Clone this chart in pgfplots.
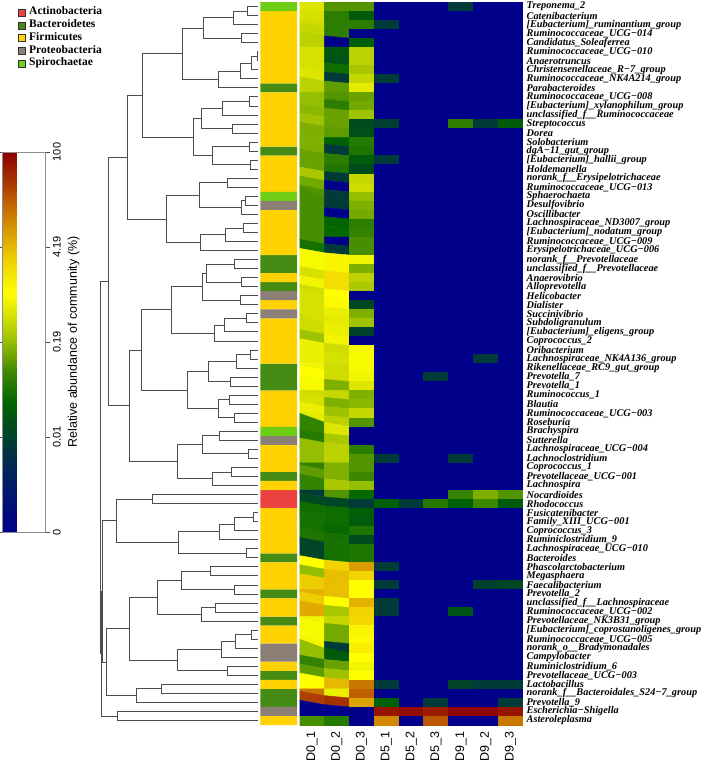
\documentclass[border=0pt]{standalone}
\usepackage{pgfplots}
\pgfplotsset{compat=1.18}
\usetikzlibrary{calc}
\usepackage{fontspec}
\setmainfont{Liberation Serif}
\newfontfamily\arial{Liberation Sans}
\definecolor{cActino}{RGB}{235,65,65}
\definecolor{cBacter}{RGB}{70,140,20}
\definecolor{cFirmi}{RGB}{255,210,0}
\definecolor{cProteo}{RGB}{140,128,118}
\definecolor{cSpiro}{RGB}{110,205,20}
\pgfplotsset{dend/.style={forget plot, draw=black!70, line width=0.8pt},
  phy/.style={xbar, bar width=1, bar shift=0pt, draw=none, fill=#1}}
\begin{document}
\begin{tikzpicture}
\useasboundingbox (0pt,0pt) rectangle (709pt,763pt);

% ---------------- dendrogram + legend ----------------
\begin{axis}[at={(100pt,38pt)}, anchor=south west, scale only axis,
  width=160pt, height=723pt, xmin=100, xmax=260, ymin=0.5, ymax=80.5,
  y dir=reverse, hide axis, clip=false,
  legend style={at={(-0.5125,0.9945)}, anchor=north west, draw=none, fill=none,
    font=\bfseries\fontsize{11.5}{11.5}\selectfont, inner sep=0pt, row sep=0pt,
    nodes={inner sep=0.6pt, text height=8pt, text depth=3.6pt},
    /tikz/every odd column/.append style={column sep=3pt}},
  legend cell align=left,
  legend image code/.code={\draw[#1] (0pt,-3.5pt) rectangle (7pt,3.5pt);}]
\addlegendimage{fill=cActino, draw=black!80}
\addlegendentry{Actinobacteria}
\addlegendimage{fill=cBacter, draw=black!80}
\addlegendentry{Bacteroidetes}
\addlegendimage{fill=cFirmi, draw=black!80}
\addlegendentry{Firmicutes}
\addlegendimage{fill=cProteo, draw=black!80}
\addlegendentry{Proteobacteria}
\addlegendimage{fill=cSpiro, draw=black!80}
\addlegendentry{Spirochaetae}
% rows 1-28
\addplot[dend] coordinates {(258,1) (247,1) (247,2) (258,2)};
\addplot[dend] coordinates {(247,1.5) (233,1.5) (233,3) (258,3)};
\addplot[dend] coordinates {(258,4) (241,4) (241,5) (258,5)};
\addplot[dend] coordinates {(233,2.25) (203,2.25) (203,4.5) (241,4.5)};
\addplot[dend] coordinates {(258,6) (257,6) (257,7) (258,7)};
\addplot[dend] coordinates {(257,6.5) (251,6.5) (251,8) (258,8)};
\addplot[dend] coordinates {(251,7.25) (240,7.25) (240,9) (258,9)};
\addplot[dend] coordinates {(240,8.125) (218,8.125) (218,10) (258,10)};
\addplot[dend] coordinates {(203,3.375) (182,3.375) (182,9.0625) (218,9.0625)};
\addplot[dend] coordinates {(258,11) (249,11) (249,12) (258,12)};
\addplot[dend] coordinates {(249,11.5) (222,11.5) (222,13) (258,13)};
\addplot[dend] coordinates {(258,14) (232,14) (232,15) (258,15)};
\addplot[dend] coordinates {(222,12.25) (201,12.25) (201,14.5) (232,14.5)};
\addplot[dend] coordinates {(258,16) (249,16) (249,17) (258,17)};
\addplot[dend] coordinates {(258,18) (250,18) (250,19) (258,19)};
\addplot[dend] coordinates {(249,16.5) (212,16.5) (212,18.5) (250,18.5)};
\addplot[dend] coordinates {(201,13.375) (193,13.375) (193,17.5) (212,17.5)};
\addplot[dend] coordinates {(182,6.21875) (142,6.21875) (142,15.4375) (193,15.4375)};
\addplot[dend] coordinates {(258,20) (227,20) (227,21) (258,21)};
\addplot[dend] coordinates {(258,22) (245,22) (245,23) (258,23)};
\addplot[dend] coordinates {(245,22.5) (241,22.5) (241,24) (258,24)};
\addplot[dend] coordinates {(227,20.5) (199,20.5) (199,23.25) (241,23.25)};
\addplot[dend] coordinates {(258,25) (243,25) (243,26) (258,26)};
\addplot[dend] coordinates {(243,25.5) (225,25.5) (225,27) (258,27)};
\addplot[dend] coordinates {(225,26.25) (200,26.25) (200,28) (258,28)};
\addplot[dend] coordinates {(199,21.875) (166,21.875) (166,27.125) (200,27.125)};
\addplot[dend] coordinates {(142,10.828) (127,10.828) (127,24.5) (166,24.5)};
% rows 29-54
\addplot[dend] coordinates {(258,29) (234,29) (234,30) (258,30)};
\addplot[dend] coordinates {(258,31) (241,31) (241,32) (258,32)};
\addplot[dend] coordinates {(234,29.5) (206,29.5) (206,31.5) (241,31.5)};
\addplot[dend] coordinates {(258,33) (240,33) (240,34) (258,34)};
\addplot[dend] coordinates {(206,30.5) (202,30.5) (202,33.5) (240,33.5)};
\addplot[dend] coordinates {(258,35) (246,35) (246,36) (258,36)};
\addplot[dend] coordinates {(246,35.5) (224,35.5) (224,37) (258,37)};
\addplot[dend] coordinates {(224,36.25) (214,36.25) (214,38) (258,38)};
\addplot[dend] coordinates {(202,32) (171,32) (171,37.125) (214,37.125)};
\addplot[dend] coordinates {(258,39) (250,39) (250,40) (258,40)};
\addplot[dend] coordinates {(250,39.5) (236,39.5) (236,41) (258,41)};
\addplot[dend] coordinates {(258,42) (230,42) (230,43) (258,43)};
\addplot[dend] coordinates {(236,40.25) (208,40.25) (208,42.5) (230,42.5)};
\addplot[dend] coordinates {(258,44) (229,44) (229,45) (258,45)};
\addplot[dend] coordinates {(258,46) (234,46) (234,47) (258,47)};
\addplot[dend] coordinates {(229,44.5) (218,44.5) (218,46.5) (234,46.5)};
\addplot[dend] coordinates {(208,41.375) (187,41.375) (187,45.5) (218,45.5)};
\addplot[dend] coordinates {(171,34.5625) (141,34.5625) (141,43.4375) (187,43.4375)};
\addplot[dend] coordinates {(258,48) (219,48) (219,49) (258,49)};
\addplot[dend] coordinates {(258,50) (248,50) (248,51) (258,51)};
\addplot[dend] coordinates {(219,48.5) (202,48.5) (202,50.5) (248,50.5)};
\addplot[dend] coordinates {(258,52) (231,52) (231,53) (258,53)};
\addplot[dend] coordinates {(231,52.5) (212,52.5) (212,54) (258,54)};
\addplot[dend] coordinates {(202,49.5) (177,49.5) (177,53.25) (212,53.25)};
\addplot[dend] coordinates {(141,39) (129,39) (129,51.375) (177,51.375)};
\addplot[dend] coordinates {(127,17.664) (108,17.664) (108,45.1875) (129,45.1875)};
% rows 55-62
\addplot[dend] coordinates {(258,55) (152,55) (152,56) (258,56)};
\addplot[dend] coordinates {(258,57) (253,57) (253,58) (258,58)};
\addplot[dend] coordinates {(253,57.5) (234,57.5) (234,59) (258,59)};
\addplot[dend] coordinates {(234,58.25) (219,58.25) (219,60) (258,60)};
\addplot[dend] coordinates {(258,61) (246,61) (246,62) (258,62)};
\addplot[dend] coordinates {(219,59.125) (178,59.125) (178,61.5) (246,61.5)};
\addplot[dend] coordinates {(152,55.5) (116,55.5) (116,60.3125) (178,60.3125)};
% rows 63-80
\addplot[dend] coordinates {(258,63) (210,63) (210,64) (258,64)};
\addplot[dend] coordinates {(258,65) (234,65) (234,66) (258,66)};
\addplot[dend] coordinates {(210,63.5) (181,63.5) (181,65.5) (234,65.5)};
\addplot[dend] coordinates {(258,67) (215,67) (215,68) (258,68)};
\addplot[dend] coordinates {(215,67.5) (201,67.5) (201,69) (258,69)};
\addplot[dend] coordinates {(181,64.5) (157,64.5) (157,68.25) (201,68.25)};
\addplot[dend] coordinates {(258,70) (251,70) (251,71) (258,71)};
\addplot[dend] coordinates {(251,70.5) (235,70.5) (235,72) (258,72)};
\addplot[dend] coordinates {(235,71.25) (221,71.25) (221,73) (258,73)};
\addplot[dend] coordinates {(258,74) (227,74) (227,75) (258,75)};
\addplot[dend] coordinates {(221,72.125) (177,72.125) (177,74.5) (227,74.5)};
\addplot[dend] coordinates {(157,66.375) (129,66.375) (129,73.3125) (177,73.3125)};
\addplot[dend] coordinates {(258,76) (161,76) (161,77) (258,77)};
\addplot[dend] coordinates {(161,76.5) (136,76.5) (136,78) (258,78)};
\addplot[dend] coordinates {(129,69.84375) (106,69.84375) (106,77.25) (136,77.25)};
\addplot[dend] coordinates {(258,79) (117,79) (117,80) (258,80)};
\addplot[dend] coordinates {(116,57.906) (102,57.906) (102,73.547) (106,73.547)};
\addplot[dend] coordinates {(102,65.727) (101,65.727) (101,79.5) (117,79.5)};
\addplot[dend] coordinates {(108,31.43) (100,31.43) (100,72.61) (101,72.61)};
\end{axis}

% ---------------- phylum column ----------------
\begin{axis}[at={(260.3pt,38pt)}, anchor=south west, scale only axis,
  width=36.7pt, height=723pt, xmin=0, xmax=1, ymin=0.5, ymax=80.5,
  y dir=reverse, hide axis]
% Actinobacteria
\addplot[phy=cActino] coordinates {(1,55) (1,56)};
% Bacteroidetes
\addplot[phy=cBacter] coordinates {(1,10) (1,17) (1,29) (1,30) (1,32) (1,41) (1,42) (1,43)
  (1,53) (1,62) (1,66) (1,69) (1,75) (1,77) (1,78)};
% Firmicutes
\addplot[phy=cFirmi] coordinates {(1,2) (1,3) (1,4) (1,5) (1,6) (1,7) (1,8) (1,9)
  (1,11) (1,12) (1,13) (1,14) (1,15) (1,16) (1,18) (1,19) (1,20) (1,21)
  (1,24) (1,25) (1,26) (1,27) (1,28) (1,31) (1,34) (1,36) (1,37) (1,38) (1,39) (1,40)
  (1,44) (1,45) (1,46) (1,47) (1,50) (1,51) (1,52) (1,54) (1,57) (1,58) (1,59) (1,60) (1,61)
  (1,63) (1,64) (1,65) (1,67) (1,68) (1,70) (1,71) (1,74) (1,76) (1,80)};
% Proteobacteria
\addplot[phy=cProteo] coordinates {(1,23) (1,33) (1,35) (1,49) (1,72) (1,73) (1,79)};
% Spirochaetae
\addplot[phy=cSpiro] coordinates {(1,1) (1,22) (1,48)};
\end{axis}

% ---------------- heatmap ----------------
\begin{axis}[at={(299.5pt,38pt)}, anchor=south west, scale only axis,
  width=223.5pt, height=723pt, xmin=-0.5, xmax=8.5, ymin=0.5, ymax=80.5,
  y dir=reverse, axis line style={draw=none}, major tick length=0pt,
  xtick={0,...,8},
  xticklabels={D0\_1,D0\_2,D0\_3,D5\_1,D5\_2,D5\_3,D9\_1,D9\_2,D9\_3},
  xticklabel style={rotate=90, anchor=east, font=\arial\fontsize{12.5}{12.5}\selectfont},
  xticklabel shift=3pt,
  ytick={1,...,80}, yticklabel pos=right,
  yticklabel style={anchor=west, inner xsep=3.5pt, inner ysep=0pt, font=\bfseries\itshape\fontsize{10.3}{10.3}\selectfont},
  yticklabels={
{Treponema\_2},{Catenibacterium},{[Eubacterium]\_ruminantium\_group},{Ruminococcaceae\_UCG−014},
{Candidatus\_Soleaferrea},{Ruminococcaceae\_UCG−010},{Anaerotruncus},{Christensenellaceae\_R−7\_group},
{Ruminococcaceae\_NK4A214\_group},{Parabacteroides},{Ruminococcaceae\_UCG−008},{[Eubacterium]\_xylanophilum\_group},
{unclassified\_f\_\_Ruminococcaceae},{Streptococcus},{Dorea},{Solobacterium},{dgA−11\_gut\_group},
{[Eubacterium]\_hallii\_group},{Holdemanella},{norank\_f\_\_Erysipelotrichaceae},{Ruminococcaceae\_UCG−013},
{Sphaerochaeta},{Desulfovibrio},{Oscillibacter},{Lachnospiraceae\_ND3007\_group},{[Eubacterium]\_nodatum\_group},
{Ruminococcaceae\_UCG−009},{Erysipelotrichaceae\_UCG−006},{norank\_f\_\_Prevotellaceae},{unclassified\_f\_\_Prevotellaceae},
{Anaerovibrio},{Alloprevotella},{Helicobacter},{Dialister},{Succinivibrio},{Subdoligranulum},
{[Eubacterium]\_eligens\_group},{Coprococcus\_2},{Oribacterium},{Lachnospiraceae\_NK4A136\_group},
{Rikenellaceae\_RC9\_gut\_group},{Prevotella\_7},{Prevotella\_1},{Ruminococcus\_1},{Blautia},
{Ruminococcaceae\_UCG−003},{Roseburia},{Brachyspira},{Sutterella},{Lachnospiraceae\_UCG−004},
{Lachnoclostridium},{Coprococcus\_1},{Prevotellaceae\_UCG−001},{Lachnospira},{Nocardioides},{Rhodococcus},
{Fusicatenibacter},{Family\_XIII\_UCG−001},{Coprococcus\_3},{Ruminiclostridium\_9},{Lachnospiraceae\_UCG−010},
{Bacteroides},{Phascolarctobacterium},{Megasphaera},{Faecalibacterium},{Prevotella\_2},
{unclassified\_f\_\_Lachnospiraceae},{Ruminococcaceae\_UCG−002},{Prevotellaceae\_NK3B31\_group},
{[Eubacterium]\_coprostanoligenes\_group},{Ruminococcaceae\_UCG−005},{norank\_o\_\_Bradymonadales},
{Campylobacter},{Ruminiclostridium\_6},{Prevotellaceae\_UCG−003},{Lactobacillus},
{norank\_f\_\_Bacteroidales\_S24−7\_group},{Prevotella\_9},{Escherichia−Shigella},{Asteroleplasma}},
  colormap={heat}{rgb255(0pt)=(0,0,139) rgb255(12pt)=(0,25,105) rgb255(22pt)=(0,55,62)
    rgb255(28pt)=(0,75,30) rgb255(34pt)=(0,100,0) rgb255(42pt)=(60,135,0) rgb255(50pt)=(150,190,0)
    rgb255(57pt)=(215,225,0) rgb255(63pt)=(255,255,0) rgb255(72pt)=(238,205,0) rgb255(82pt)=(210,135,0)
    rgb255(92pt)=(170,55,0) rgb255(100pt)=(139,0,0)},
  point meta min=0, point meta max=100,
  colorbar,
  colorbar style={at={($(parent axis.south west)+(-305.5pt,573pt)$)}, anchor=north west,
    scale only axis, width=43pt, height=380pt,
    ytick={0,25,50,75,100}, yticklabels={0,0.01,0.19,4.19,100},
    yticklabel pos=right,
    yticklabel style={rotate=90, anchor=north, font=\arial\fontsize{11}{11}\selectfont},
    major tick length=4pt, tick align=outside, tick style={black!70, thin},
    axis line style={draw=black!45},
    ylabel={Relative abundance of community (\%)},
    ylabel style={font=\arial\fontsize{12.5}{12.5}\selectfont}}
]
\addplot[matrix plot*, mesh/cols=9, point meta=explicit]
 table[row sep=\\, x expr={mod(\coordindex,9)}, y expr={floor(\coordindex/9)+1}, meta=c] {
c\\
58\\44\\44\\0\\0\\0\\23\\0\\0\\
57\\40\\32\\0\\0\\0\\0\\0\\0\\
56\\40\\40\\23\\0\\0\\0\\0\\0\\
55\\40\\0\\0\\0\\0\\0\\0\\0\\
54\\0\\33\\0\\0\\0\\0\\0\\0\\
57\\31\\54\\0\\0\\0\\0\\0\\0\\
57\\30\\54\\0\\0\\0\\0\\0\\0\\
57\\36\\52\\0\\0\\0\\0\\0\\0\\
58\\23\\55\\23\\0\\0\\0\\0\\0\\
54\\45\\59\\0\\0\\0\\0\\0\\0\\
50\\44\\46\\0\\0\\0\\0\\0\\0\\
50\\40\\47\\0\\0\\0\\0\\0\\0\\
49\\46\\51\\0\\0\\0\\0\\0\\0\\
51\\46\\28\\24\\0\\0\\40\\23\\32\\
48\\45\\29\\0\\0\\0\\0\\0\\0\\
48\\33\\39\\0\\0\\0\\0\\0\\0\\
48\\23\\38\\0\\0\\0\\0\\0\\0\\
46\\40\\32\\23\\0\\0\\0\\0\\0\\
46\\38\\28\\0\\0\\0\\0\\0\\0\\
52\\23\\55\\0\\0\\0\\0\\0\\0\\
47\\0\\56\\0\\0\\0\\0\\0\\0\\
44\\23\\50\\0\\0\\0\\0\\0\\0\\
43\\23\\48\\0\\0\\0\\0\\0\\0\\
43\\0\\47\\0\\0\\0\\0\\0\\0\\
43\\34\\40\\0\\0\\0\\0\\0\\0\\
43\\35\\41\\0\\0\\0\\0\\0\\0\\
43\\0\\43\\0\\0\\0\\0\\0\\0\\
37\\23\\43\\0\\0\\0\\0\\0\\0\\
62\\65\\61\\0\\0\\0\\0\\0\\0\\
62\\65\\48\\0\\0\\0\\0\\0\\0\\
57\\69\\54\\0\\0\\0\\0\\0\\0\\
61\\69\\52\\0\\0\\0\\0\\0\\0\\
56\\63\\0\\0\\0\\0\\0\\0\\0\\
57\\64\\27\\0\\0\\0\\0\\0\\0\\
57\\60\\48\\0\\0\\0\\0\\0\\0\\
57\\59\\51\\0\\0\\0\\0\\0\\0\\
56\\60\\25\\0\\0\\0\\0\\0\\0\\
51\\61\\0\\0\\0\\0\\0\\0\\0\\
60\\56\\62\\0\\0\\0\\0\\0\\0\\
60\\57\\62\\0\\0\\0\\0\\23\\0\\
61\\56\\62\\0\\0\\0\\0\\0\\0\\
63\\56\\61\\0\\0\\23\\0\\0\\0\\
62\\48\\58\\0\\0\\0\\0\\0\\0\\
56\\55\\48\\0\\0\\0\\0\\0\\0\\
57\\48\\49\\0\\0\\0\\0\\0\\0\\
60\\51\\55\\0\\0\\0\\0\\0\\0\\
59\\54\\44\\0\\0\\0\\0\\0\\0\\
41\\58\\0\\0\\0\\0\\0\\0\\0\\
39\\52\\0\\0\\0\\0\\0\\0\\0\\
50\\54\\40\\0\\0\\0\\0\\0\\0\\
50\\54\\44\\23\\0\\0\\23\\0\\0\\
41\\48\\44\\0\\0\\0\\0\\0\\0\\
45\\48\\42\\0\\0\\0\\0\\0\\0\\
41\\52\\50\\0\\0\\0\\0\\0\\0\\
23\\44\\35\\0\\0\\0\\41\\48\\44\\
27\\27\\23\\33\\23\\39\\33\\42\\32\\
36\\36\\33\\0\\0\\0\\0\\0\\0\\
37\\36\\32\\0\\0\\0\\0\\0\\0\\
37\\35\\38\\0\\0\\0\\0\\0\\0\\
38\\37\\28\\0\\0\\0\\0\\0\\0\\
26\\37\\38\\0\\0\\0\\0\\0\\0\\
26\\37\\38\\0\\0\\0\\0\\0\\0\\
63\\71\\79\\23\\0\\0\\0\\0\\0\\
50\\74\\71\\0\\0\\0\\0\\0\\0\\
72\\74\\63\\23\\0\\0\\0\\25\\27\\
76\\74\\63\\0\\0\\0\\0\\0\\0\\
72\\63\\76\\23\\0\\0\\0\\0\\0\\
77\\52\\71\\23\\0\\0\\30\\0\\0\\
61\\55\\70\\0\\0\\0\\0\\0\\0\\
62\\47\\65\\0\\0\\0\\0\\0\\0\\
62\\47\\64\\0\\0\\0\\0\\0\\0\\
61\\23\\66\\0\\0\\0\\0\\0\\0\\
50\\32\\63\\0\\0\\0\\0\\0\\0\\
41\\46\\61\\0\\0\\0\\0\\0\\0\\
45\\51\\63\\0\\0\\0\\0\\0\\0\\
63\\75\\84\\23\\0\\0\\26\\23\\23\\
84\\60\\87\\0\\0\\0\\0\\0\\0\\
91\\93\\78\\33\\0\\23\\0\\0\\23\\
0\\0\\0\\97\\98\\96\\99\\99\\97\\
43\\39\\0\\82\\0\\88\\0\\0\\84\\
};
\end{axis}
\end{tikzpicture}
\end{document}
